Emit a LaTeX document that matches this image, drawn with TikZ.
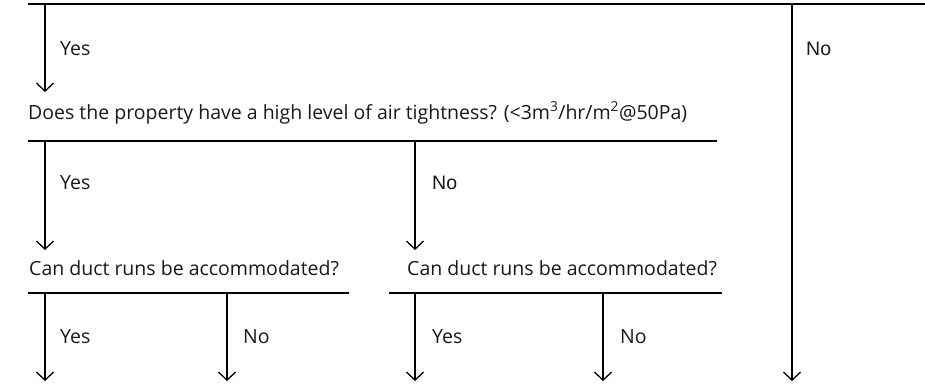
\documentclass[tikz,border=0pt]{standalone}
\usepackage{fontspec}
\setmainfont{Open Sans}
\newfontfamily\arialfont{Liberation Sans}
\usetikzlibrary{arrows.meta}
\tikzset{
  rule/.style={line width=1.3pt},
  flow/.style={line width=1.3pt,-{Straight Barb[length=8pt,width=17pt,line width=1.3pt]}},
  txt/.style={anchor=west,inner sep=0pt,text=black!90,font=\fontsize{19.5}{23}\selectfont}
}

\begin{document}
\begin{tikzpicture}[x=1pt,y=-1pt]
  \useasboundingbox (0,0) rectangle (925,383);

  % Top rule
  \coordinate (top-l) at (28,4);
  \coordinate (top-r) at (925,4);
  \draw[rule] (top-l) -- (top-r);

  % Questions
  \node[txt] (tight) at (28,113) {Does the property have a high level of air tightness? (<3m\textsuperscript{3}/hr/m\textsuperscript{2}@50Pa)};
  \node[txt] (ductA) at (29,268) {Can duct runs be accommodated?};
  \node[txt] (ductB) at (407,268) {Can duct runs be accommodated?};

  % Rules under questions
  \coordinate (r2-l) at (28,141);  \coordinate (r2-r) at (717,141);
  \coordinate (r3a-l) at (28,293); \coordinate (r3a-r) at (349,293);
  \coordinate (r3b-l) at (389,293); \coordinate (r3b-r) at (722,293);
  \draw[rule] (r2-l) -- (r2-r);
  \draw[rule] (r3a-l) -- (r3a-r);
  \draw[rule] (r3b-l) -- (r3b-r);

  % Branch points and arrow ends
  \coordinate (b-yes) at (45,4);    \coordinate (e-yes) at (45,92);
  \coordinate (b-no) at (792,4);    \coordinate (e-no) at (792,381);
  \coordinate (b2-yes) at (45,141); \coordinate (e2-yes) at (45,250);
  \coordinate (b2-no) at (415,141); \coordinate (e2-no) at (415,250);
  \coordinate (b3-1) at (45,293);   \coordinate (e3-1) at (45,381);
  \coordinate (b3-2) at (227,293);  \coordinate (e3-2) at (227,381);
  \coordinate (b3-3) at (415,293);  \coordinate (e3-3) at (415,381);
  \coordinate (b3-4) at (603,293);  \coordinate (e3-4) at (603,381);

  \draw[flow] (b-yes) -- (e-yes);
  \draw[flow] (b-no) -- (e-no);
  \draw[flow] (b2-yes) -- (e2-yes);
  \draw[flow] (b2-no) -- (e2-no);
  \draw[flow] (b3-1) -- (e3-1);
  \draw[flow] (b3-2) -- (e3-2);
  \draw[flow] (b3-3) -- (e3-3);
  \draw[flow] (b3-4) -- (e3-4);

  % Labels
  \node[txt] (l-yes) at (60,49) {Yes};
  \node[txt,font=\arialfont\fontsize{19.5}{23}\selectfont] (l-no) at (806,49) {No};
  \node[txt] (l2-yes) at (60,183) {Yes};
  \node[txt,font=\arialfont\fontsize{19.5}{23}\selectfont] (l2-no) at (432,183) {No};
  \node[txt] (l3-1) at (60,337) {Yes};
  \node[txt] (l3-2) at (243,337) {No};
  \node[txt] (l3-3) at (432,337) {Yes};
  \node[txt] (l3-4) at (620,337) {No};
\end{tikzpicture}
\end{document}
